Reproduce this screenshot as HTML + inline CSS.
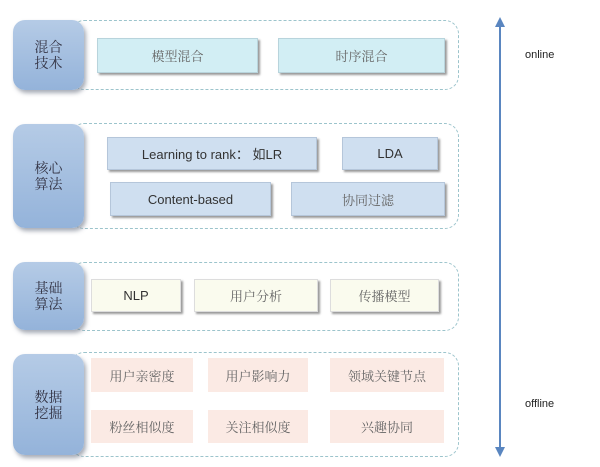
<!DOCTYPE html>
<html><head><meta charset="utf-8"><style>
body{margin:0;width:600px;height:467px;background:#fff;position:relative;overflow:hidden;font-family:"Liberation Sans","Noto Sans CJK SC",sans-serif}
.c{position:absolute;border:1.5px dashed #9cc4cc;border-radius:14px;box-sizing:border-box}
.l{position:absolute;left:13px;width:71px;background:linear-gradient(#b5cbe6,#94b3da);border-radius:12px;box-shadow:2px 3px 4px rgba(80,90,110,.5);display:flex;align-items:center;justify-content:center;text-align:center;font-family:"Noto Serif CJK SC",serif;font-size:14px;line-height:16px;color:#334}
.b{position:absolute;display:flex;align-items:center;justify-content:center;font-size:13px;color:#333;box-sizing:border-box}
.t{background:#d2eef4;border:1px solid #b8d4dc;box-shadow:2px 2px 2px #999}
.v{background:#cfdff0;border:1px solid #b5c6da;box-shadow:2px 2px 2px #999}
.y{background:#fafbee;border:1px solid #ddd;box-shadow:2px 2px 2px #999}
.p{background:#fbeae4;color:#777}
.s{font-family:"Noto Serif CJK SC",serif;color:#666}
</style></head><body>
<div class="c" style="left:70px;top:20px;width:389px;height:70px"></div>
<div class="c" style="left:70px;top:123px;width:389px;height:106px"></div>
<div class="c" style="left:70px;top:262px;width:389px;height:69px"></div>
<div class="c" style="left:70px;top:352px;width:389px;height:105px"></div>
<div class="l" style="top:20px;height:70px">混合<br>技术</div>
<div class="l" style="top:124px;height:104px">核心<br>算法</div>
<div class="l" style="top:262px;height:68px">基础<br>算法</div>
<div class="l" style="top:354px;height:101px">数据<br>挖掘</div>
<div class="b t s" style="left:97px;top:38px;width:161px;height:35px">模型混合</div>
<div class="b t s" style="left:278px;top:38px;width:167px;height:35px">时序混合</div>
<div class="b v" style="left:107px;top:137px;width:210px;height:33px">Learning to rank：&nbsp;如LR</div>
<div class="b v" style="left:342px;top:137px;width:96px;height:33px">LDA</div>
<div class="b v" style="left:110px;top:182px;width:161px;height:34px">Content-based</div>
<div class="b v s" style="left:291px;top:182px;width:154px;height:34px">协同过滤</div>
<div class="b y" style="left:91px;top:279px;width:90px;height:33px">NLP</div>
<div class="b y s" style="left:194px;top:279px;width:124px;height:33px">用户分析</div>
<div class="b y s" style="left:330px;top:279px;width:109px;height:33px">传播模型</div>
<div class="b p s" style="left:91px;top:358px;width:102px;height:34px">用户亲密度</div>
<div class="b p s" style="left:208px;top:358px;width:100px;height:34px">用户影响力</div>
<div class="b p s" style="left:330px;top:358px;width:114px;height:34px">领域关键节点</div>
<div class="b p s" style="left:91px;top:410px;width:102px;height:33px">粉丝相似度</div>
<div class="b p s" style="left:208px;top:410px;width:100px;height:33px">关注相似度</div>
<div class="b p s" style="left:330px;top:410px;width:114px;height:33px">兴趣协同</div>
<svg style="position:absolute;left:0;top:0" width="600" height="467">
<line x1="500" y1="24" x2="500" y2="450" stroke="#5a86c0" stroke-width="2"/>
<polygon points="500,17 495,27 505,27" fill="#5a86c0"/>
<polygon points="500,457 495,447 505,447" fill="#5a86c0"/>
</svg>
<div style="position:absolute;left:525px;top:49px;font-size:11px;color:#222">online</div>
<div style="position:absolute;left:525px;top:398px;font-size:11px;color:#222">offline</div>
</body></html>
